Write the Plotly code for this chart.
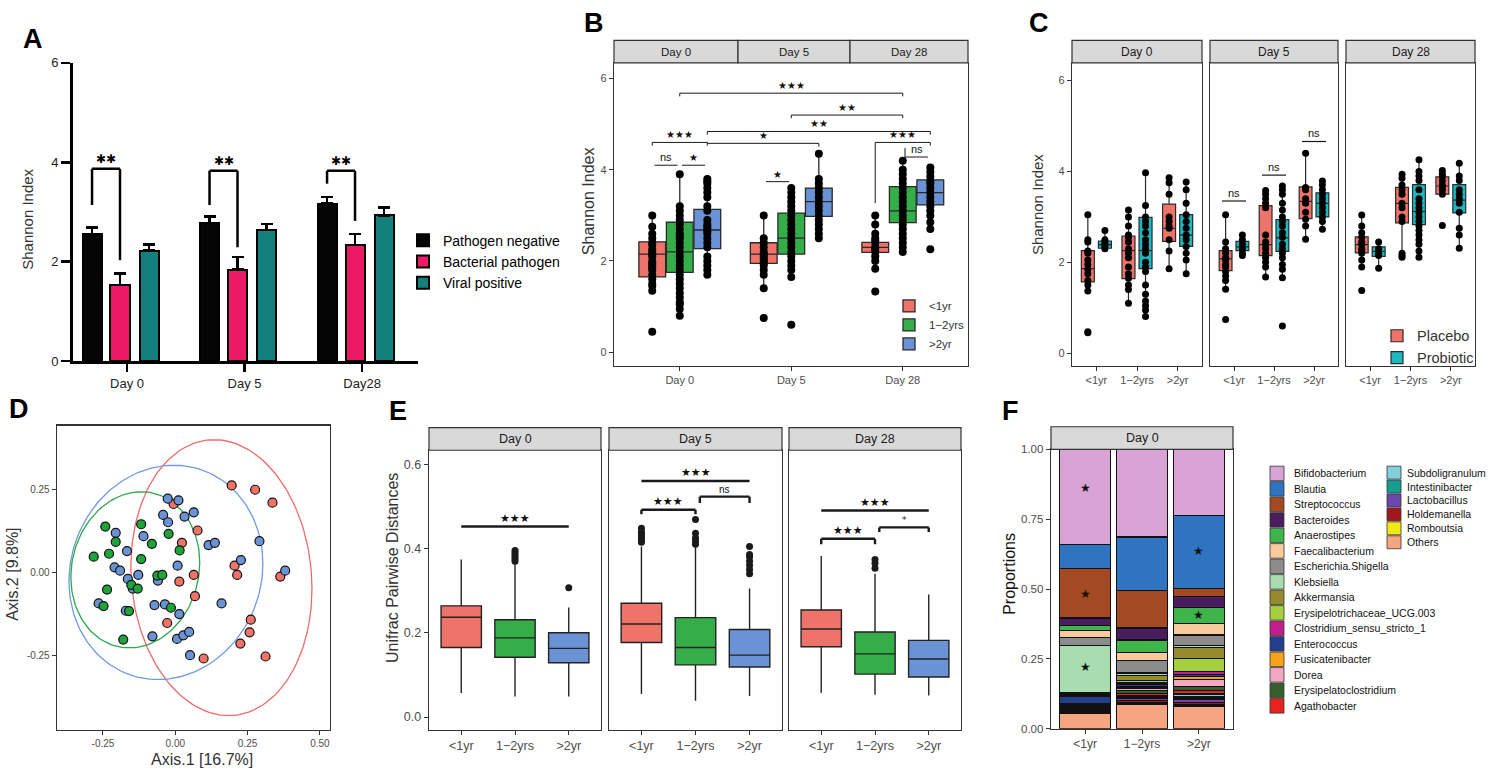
import numpy as np
import plotly.graph_objects as go

# ====================== DATA ======================
# ---- Panel A : mean Shannon index (+SEM) ----
A_days = ["Day 0", "Day 5", "Day28"]
A_series = ["Pathogen negative", "Bacterial pathogen", "Viral positive"]
A_neg_mean = [2.55, 2.78, 3.17]
A_neg_err = [0.14, 0.13, 0.13]
A_bac_mean = [1.53, 1.84, 2.34]
A_bac_err = [0.23, 0.25, 0.22]
A_vir_mean = [2.22, 2.64, 2.93]
A_vir_err = [0.13, 0.12, 0.16]
A_sig_label = ["**", "**", "**"]
A_sig_left_end = [3.14, 3.14, 3.57]
A_sig_top = [3.87, 3.83, 3.83]
A_sig_right_end = [2.03, 2.29, 2.82]

# ---- Panel B : Shannon by age group, [age][day] ----
B_days = ["Day 0", "Day 5", "Day 28"]
B_ages = ["<1yr", "1−2yrs", ">2yr"]
B_q1 = [[1.65, 1.95, 2.19], [1.75, 2.15, 2.84], [2.27, 2.98, 3.23]]
B_median = [[2.15, 2.15, 2.30], [2.20, 2.50, 3.10], [2.68, 3.30, 3.50]]
B_q3 = [[2.42, 2.40, 2.41], [2.85, 3.05, 3.63], [3.13, 3.60, 3.78]]
B_low = [[1.35, 1.40, 1.83], [0.80, 1.65, 2.20], [1.70, 2.50, 2.65]]
B_high = [[3.00, 3.00, 3.00], [3.90, 3.60, 4.20], [3.80, 4.35, 4.05]]
B_points = [
    [[3.0, 2.75, 2.6, 2.5, 2.4, 2.35, 2.25, 2.2, 2.15, 2.1, 2.0, 1.95, 1.9, 1.85, 1.8, 1.7, 1.6, 1.5, 1.45, 1.35, 0.45],
     [3.0, 2.5, 2.4, 2.3, 2.2, 2.15, 2.1, 2.05, 2.0, 1.95, 1.9, 1.8, 1.7, 1.4, 0.75],
     [3.0, 2.8, 2.6, 2.5, 2.45, 2.4, 2.3, 2.25, 2.2, 2.1, 2.0, 1.83, 1.33]],
    [[3.9, 3.2, 3.1, 3.0, 2.9, 2.8, 2.7, 2.6, 2.55, 2.5, 2.4, 2.3, 2.2, 2.1, 2.0, 1.9, 1.8, 1.7, 1.6, 1.5, 1.4, 1.3, 1.2, 1.1, 1.05, 0.95, 0.8],
     [3.6, 3.5, 3.4, 3.3, 3.2, 3.1, 3.0, 2.9, 2.8, 2.7, 2.6, 2.5, 2.4, 2.3, 2.2, 2.1, 2.0, 1.9, 1.8, 1.65, 0.6],
     [4.2, 4.0, 3.9, 3.8, 3.7, 3.6, 3.5, 3.4, 3.3, 3.2, 3.1, 3.0, 2.9, 2.8, 2.7, 2.6, 2.5, 2.4, 2.3, 2.2]],
    [[3.8, 3.75, 3.7, 3.6, 3.5, 3.4, 3.2, 3.1, 2.9, 2.8, 2.75, 2.7, 2.65, 2.6, 2.5, 2.4, 2.3, 2.1, 2.0, 1.9, 1.8, 1.7],
     [4.35, 3.8, 3.7, 3.6, 3.5, 3.4, 3.3, 3.2, 3.1, 3.0, 2.9, 2.8, 2.7, 2.6, 2.5],
     [4.05, 3.95, 3.85, 3.75, 3.7, 3.6, 3.5, 3.4, 3.3, 3.2, 3.1, 3.0, 2.85, 2.7, 2.26]],
]
# brackets: (day1, age1, day2, age2, y, label, drop_left, drop_right)
B_sig = [
    (0, 0, 0, 2, 4.60, "★★★", 0.07, 0.07),
    (0, 0, 0, 1, 4.10, "ns", 0, 0),
    (0, 1, 0, 2, 4.10, "★", 0, 0),
    (0, 2, 1, 2, 4.58, "★", 0, 0.07),
    (0, 2, 2, 2, 4.84, "★★", 0.07, 0.07),
    (1, 1, 2, 1, 5.20, "★★", 0.07, 0.07),
    (0, 1, 2, 1, 5.68, "★★★", 0.07, 0.07),
    (1, 0, 1, 1, 3.74, "★", 0, 0),
    (2, 0, 2, 2, 4.60, "★★★", 1.33, 0.07),
    (2, 1, 2, 2, 4.28, "ns", -0.2, 0),
]

# ---- Panel C : Placebo vs Probiotic, [day][age][treatment] ----
C_days = ["Day 0", "Day 5", "Day 28"]
C_ages = ["<1yr", "1−2yrs", ">2yr"]
C_treat = ["Placebo", "Probiotic"]
C_q1 = [[[1.57, 2.31], [1.64, 1.86], [2.46, 2.35]],
        [[1.82, 2.26], [2.15, 2.24], [2.96, 3.00]],
        [[2.21, 2.13], [2.87, 2.83], [3.50, 3.09]]]
C_median = [[[1.86, 2.39], [2.26, 2.26], [2.75, 2.60]],
            [[2.08, 2.34], [2.39, 2.54], [3.34, 3.30]],
            [[2.39, 2.24], [3.30, 3.12], [3.68, 3.37]]]
C_q3 = [[[2.26, 2.47], [2.58, 2.99], [3.28, 3.05]],
        [[2.26, 2.46], [3.25, 2.94], [3.66, 3.53]],
        [[2.56, 2.34], [3.65, 3.71], [3.88, 3.71]]]
C_low = [[[1.37, 2.30], [1.10, 0.81], [1.86, 1.75]],
         [[1.41, 2.15], [1.68, 1.66], [2.51, 2.73]],
         [[1.90, 1.87], [2.11, 2.11], [3.45, 2.31]]]
C_high = [[[3.05, 2.70], [3.16, 3.97], [3.86, 3.77]],
          [[3.05, 2.60], [3.58, 3.68], [4.40, 3.79]],
          [[3.04, 2.45], [3.94, 4.26], [4.02, 4.18]]]
C_points = [
    [[[3.05, 2.5, 2.45, 2.25, 2.2, 2.05, 1.95, 1.85, 1.75, 1.6, 1.5, 1.37, 0.47, 0.45],
      [2.7, 2.5, 2.45, 2.4, 2.35, 2.3]],
     [[3.15, 3.0, 2.8, 2.6, 2.55, 2.45, 2.3, 2.2, 2.1, 1.9, 1.75, 1.65, 1.5, 1.4, 1.1],
      [3.97, 3.25, 3.0, 2.9, 2.8, 2.65, 2.5, 2.4, 2.3, 2.2, 2.0, 1.9, 1.8, 1.5, 1.3, 1.15, 1.05, 0.95, 0.81]],
     [[3.86, 3.75, 3.5, 3.0, 2.9, 2.8, 2.75, 2.5, 2.25, 1.86],
      [3.77, 3.6, 3.3, 3.05, 2.9, 2.75, 2.6, 2.5, 2.35, 2.2, 2.05, 1.75]]],
    [[[3.05, 2.45, 2.3, 2.2, 2.1, 2.05, 1.95, 1.9, 1.8, 1.7, 1.6, 1.41, 0.74],
      [2.6, 2.5, 2.4, 2.3, 2.2, 2.15]],
     [[3.58, 3.5, 3.4, 3.3, 3.2, 2.6, 2.45, 2.39, 2.3, 2.2, 2.1, 2.0, 1.9, 1.68],
      [3.68, 3.6, 3.5, 3.3, 3.15, 3.0, 2.9, 2.8, 2.65, 2.55, 2.4, 2.3, 2.2, 2.1, 1.95, 1.85, 1.66, 0.6]],
     [[4.4, 3.65, 3.6, 3.4, 3.3, 3.1, 2.95, 2.8, 2.51],
      [3.79, 3.7, 3.6, 3.5, 3.4, 3.3, 3.2, 3.1, 3.0, 2.9, 2.73]]],
    [[[3.04, 2.8, 2.65, 2.55, 2.45, 2.4, 2.3, 2.25, 2.2, 2.05, 1.9, 1.38],
      [2.45, 2.3, 2.25, 2.2, 2.15, 1.87]],
     [[3.94, 3.85, 3.7, 3.6, 3.5, 3.3, 3.2, 3.0, 2.9, 2.2, 2.15, 2.11],
      [4.26, 4.0, 3.9, 3.8, 3.6, 3.4, 3.3, 3.2, 3.1, 3.0, 2.9, 2.8, 2.7, 2.6, 2.5, 2.4, 2.25, 2.11]],
     [[4.02, 3.95, 3.9, 3.8, 3.7, 3.65, 3.6, 3.5, 2.81],
      [4.18, 3.9, 3.8, 3.6, 3.5, 3.4, 3.3, 3.1, 2.75, 2.6, 2.31]]],
]
C_ns_day = [1, 1, 1]
C_ns_age = [0, 1, 2]
C_ns_y = [3.35, 3.92, 4.66]

# ---- Panel D : PCoA coordinates ----
D_red_x = [0.195, 0.276, 0.336, 0.077, 0.023, -0.006, 0.064, 0.205, 0.214, 0.363, 0.068, 0.014, -0.028, 0.261, 0.257, 0.225, 0.098, 0.312]
D_red_y = [0.262, 0.249, 0.21, 0.126, 0.089, 0.206, -0.008, 0.02, -0.008, -0.013, -0.072, -0.028, -0.153, -0.143, -0.181, -0.215, -0.26, -0.254]
D_blue_x = [-0.026, 0.011, 0.064, 0.032, -0.042, -0.025, -0.11, -0.206, 0.115, 0.137, 0.291, 0.227, 0.38, -0.167, -0.21, -0.191, -0.128, -0.164, -0.147, -0.06, 0.008, -0.265, -0.171, -0.072, -0.036, 0.014, 0.16, 0.006, 0.028, 0.048, 0.051, -0.079]
D_blue_y = [0.222, 0.217, 0.181, 0.168, 0.173, 0.151, 0.109, 0.119, 0.082, 0.089, 0.094, 0.037, 0.005, 0.064, 0.015, 0.005, -0.008, -0.02, -0.049, -0.025, 0.02, -0.094, -0.116, -0.099, -0.097, -0.126, -0.094, -0.201, -0.19, -0.18, -0.25, -0.193]
D_green_x = [-0.242, -0.118, -0.023, -0.206, -0.081, -0.282, -0.229, -0.118, 0.015, -0.062, -0.045, -0.152, -0.13, -0.236, -0.248, -0.16, -0.015, -0.18]
D_green_y = [0.138, 0.145, 0.116, 0.092, 0.086, 0.047, 0.056, 0.04, 0.066, -0.01, -0.008, -0.038, -0.049, -0.052, -0.102, -0.117, -0.107, -0.203]

# ---- Panel E : Unifrac pairwise distances, [day][age] ----
E_days = ["Day 0", "Day 5", "Day 28"]
E_ages = ["<1yr", "1−2yrs", ">2yr"]
E_q1 = [[0.165, 0.142, 0.129], [0.177, 0.124, 0.119], [0.167, 0.102, 0.095]]
E_median = [[0.237, 0.188, 0.163], [0.221, 0.165, 0.147], [0.209, 0.150, 0.138]]
E_q3 = [[0.264, 0.231, 0.200], [0.270, 0.236, 0.208], [0.254, 0.202, 0.182]]
E_low = [[0.057, 0.049, 0.049], [0.055, 0.039, 0.050], [0.058, 0.053, 0.051]]
E_high = [[0.374, 0.363, 0.260], [0.405, 0.405, 0.305], [0.382, 0.340, 0.291]]
E_outliers = [
    [[], [0.395, 0.39, 0.385, 0.38, 0.375, 0.37], [0.307]],
    [[0.448, 0.44, 0.435, 0.43, 0.425, 0.42, 0.415], [0.469, 0.436, 0.425, 0.418, 0.41], [0.405, 0.386, 0.38, 0.37, 0.36, 0.35, 0.34]],
    [[], [0.374, 0.365, 0.353], []],
]
# (day, age1, age2, y, label, drop)
E_sig = [
    (0, 1, 3, 0.452, "★★★", 0),
    (1, 1, 3, 0.560, "★★★", 0),
    (1, 1, 2, 0.492, "★★★", 0.011),
    (1, 2.08, 3, 0.523, "ns", 0.015),
    (2, 1, 3, 0.490, "★★★", 0),
    (2, 1, 2, 0.423, "★★★", 0.013),
    (2, 2.08, 3, 0.450, "*", 0.011),
]

# ---- Panel F : genus proportions, Day 0 ----
F_groups = ["<1yr", "1−2yrs", ">2yr"]
F_genera = ["Bifidobacterium", "Blautia", "Streptococcus", "Bacteroides", "Anaerostipes",
            "Faecalibacterium", "Escherichia.Shigella", "Klebsiella", "Akkermansia",
            "Erysipelotrichaceae_UCG.003", "Clostridium_sensu_stricto_1", "Enterococcus",
            "Fusicatenibacter", "Dorea", "Erysipelatoclostridium", "Agathobacter",
            "Subdoligranulum", "Intestinibacter", "Lactobacillus", "Holdemanella",
            "Romboutsia", "Others"]
F_colors = ["#D9A3D5", "#2F74C0", "#A44A22", "#4A1D5F", "#3DB54A", "#F9CB9C", "#8C8C8C",
            "#A8DDB0", "#958A2E", "#A5CF3C", "#C41E8E", "#243F8C", "#F5A31A", "#F2A7C3",
            "#35602C", "#E8231F", "#83D0DC", "#179C8F", "#6B48AE", "#A0181E", "#F2E816",
            "#F5A57F"]
F_lt1 = [0.340, 0.086, 0.178, 0.026, 0.018, 0.026, 0.029, 0.168, 0.004, 0.004, 0.004,
         0.026, 0.003, 0.003, 0.004, 0.003, 0.0042, 0.0042, 0.0042, 0.0042, 0.0042, 0.057]
F_1to2 = [0.314, 0.190, 0.135, 0.043, 0.046, 0.027, 0.045, 0.010, 0.016, 0.010, 0.005,
          0.010, 0.006, 0.005, 0.011, 0.007, 0.0062, 0.0062, 0.0062, 0.0062, 0.0062, 0.089]
F_gt2 = [0.236, 0.262, 0.028, 0.041, 0.057, 0.040, 0.039, 0.005, 0.040, 0.048, 0.010,
         0.006, 0.012, 0.024, 0.016, 0.012, 0.010, 0.007, 0.014, 0.008, 0.005, 0.080]
F_star_group = [0, 0, 0, 2, 2]
F_star_y = [0.86, 0.484, 0.22, 0.637, 0.406]

# ====================== HELPERS ======================
W, H = 1493, 777
FONT = "Arial, 'Liberation Sans', sans-serif"
SYM = "'DejaVu Sans', sans-serif"


def px(x):
    return x / W


def py(y):
    return 1 - y / H


fig = go.Figure()
shapes, annots, lay = [], [], {}


def text(x, y, s, size=12, color="#1A1A1A", angle=0, xa="center", ya="middle", family=FONT):
    annots.append(dict(x=px(x), y=py(y), xref="paper", yref="paper", text=s, showarrow=False,
                       textangle=angle, xanchor=xa, yanchor=ya,
                       font=dict(family=family, size=size, color=color)))


def seg(xr, yr, x0, y0, x1, y1, w=1.0, color="#1A1A1A"):
    shapes.append(dict(type="line", xref=xr, yref=yr, x0=x0, y0=y0, x1=x1, y1=y1,
                       line=dict(color=color, width=w)))


def bracket(xr, yr, x1, x2, y, d1, d2, w, label, size, gap=0, family=SYM):
    if d1:
        seg(xr, yr, x1, y - d1, x1, y, w)
    seg(xr, yr, x1, y, x2, y, w)
    if d2:
        seg(xr, yr, x2, y - d2, x2, y, w)
    annots.append(dict(x=(x1 + x2) / 2, y=y, xref=xr, yref=yr, text=label, showarrow=False,
                       yanchor="bottom", yshift=gap,
                       font=dict(family=family, size=size, color="#111111")))


def axis_pair(n, xdom, ydom, xrange, yrange, xkw, ykw):
    xk = "xaxis" if n == 1 else f"xaxis{n}"
    yk = "yaxis" if n == 1 else f"yaxis{n}"
    xa = dict(domain=[px(xdom[0]), px(xdom[1])], range=xrange,
              anchor="y" if n == 1 else f"y{n}", showgrid=False, zeroline=False, fixedrange=True)
    ya = dict(domain=[py(ydom[1]), py(ydom[0])], range=yrange,
              anchor="x" if n == 1 else f"x{n}", showgrid=False, zeroline=False, fixedrange=True)
    xa.update(xkw)
    ya.update(ykw)
    lay[xk] = xa
    lay[yk] = ya


def gg(tickvals=None, ticktext=None, size=11, show=True):
    d = dict(showline=True, mirror=True, linecolor="#333333", linewidth=1.3,
             ticks="outside" if show else "", ticklen=4, tickwidth=1, tickcolor="#333333",
             showticklabels=show, tickfont=dict(family=FONT, size=size, color="#4D4D4D"))
    if tickvals is not None:
        d["tickvals"] = tickvals
    if ticktext is not None:
        d["ticktext"] = ticktext
    return d


def header(x0, x1, y0, y1, label, size=12):
    shapes.append(dict(type="rect", xref="paper", yref="paper", x0=px(x0), x1=px(x1),
                       y0=py(y1), y1=py(y0), fillcolor="#D9D9D9",
                       line=dict(color="#333333", width=1.2)))
    text((x0 + x1) / 2, (y0 + y1) / 2, label, size=size)


def cov_trob(X, nu=5, maxit=25, tol=0.01):
    # robust multivariate-t location/scatter (as MASS::cov.trob)
    n, p = X.shape
    wt = np.ones(n)
    loc = X.mean(axis=0)
    w = np.sqrt(wt)
    for _ in range(maxit):
        w0 = w
        Xc = X - loc
        _, s, vt = np.linalg.svd(np.sqrt(w / w.sum())[:, None] * Xc, full_matrices=False)
        wX = Xc @ vt.T @ np.diag(1 / s)
        Q = (wX ** 2).sum(axis=1)
        w = (wt * (nu + p)) / (nu + Q)
        loc = (w[:, None] * X).sum(axis=0) / w.sum()
        if np.all(np.abs(w - w0) < tol):
            break
    Xc = X - loc
    cov = (np.sqrt(w)[:, None] * Xc).T @ (np.sqrt(w)[:, None] * Xc) / wt.sum()
    return loc, cov


def ellipse(xs, ys, level=0.95, n=160):
    # ggplot2 stat_ellipse(type = "t")
    X = np.column_stack([xs, ys])
    mu, cov = cov_trob(X)
    d2 = len(xs) - 1
    fq = d2 / 2.0 * ((1 - level) ** (-2.0 / d2) - 1)
    r = np.sqrt(2 * fq)
    chol = np.linalg.cholesky(cov).T
    t = np.linspace(0, 2 * np.pi, n)
    unit = np.column_stack([np.cos(t), np.sin(t)])
    pts = mu + r * (unit @ chol)
    return pts[:, 0], pts[:, 1]


AGE_COLS = ["#F0736A", "#35AE4A", "#6A93D6"]
TREAT_COLS = ["#F0736A", "#1CB8BF"]

# ====================== PANEL A ======================
A_off = [-0.238, 0.0, 0.247]
A_cols = ["#050505", "#EC1A66", "#13807D"]
A_means = [A_neg_mean, A_bac_mean, A_vir_mean]
A_errs = [A_neg_err, A_bac_err, A_vir_err]
for k in range(3):
    fig.add_trace(go.Bar(
        x=[i + A_off[k] for i in range(len(A_days))], y=A_means[k], width=0.162,
        name=A_series[k], marker=dict(color=A_cols[k], line=dict(color="black", width=2)),
        error_y=dict(type="data", symmetric=False, array=A_errs[k], arrayminus=[0] * 3,
                     color="black", thickness=2.5, width=6),
        xaxis="x", yaxis="y", legend="legend"))
axis_pair(1, (73, 418), (57, 361), [-0.4, 2.536], [0, 6],
          dict(showline=True, linewidth=3, linecolor="black", ticks="outside", ticklen=8,
               tickwidth=2.5, tickcolor="black", tickvals=[i + 0.06 for i in range(3)],
               ticktext=A_days, tickfont=dict(family=FONT, size=13, color="#222222")),
          dict(showline=True, linewidth=3, linecolor="black", ticks="outside", ticklen=9,
               tickwidth=2.5, tickcolor="black", tickvals=[0, 2, 4, 6],
               tickfont=dict(family=FONT, size=13, color="#222222")))
for i in range(3):
    xl, xr_ = i + A_off[0], i + A_off[1]
    seg("x", "y", xl, A_sig_left_end[i], xl, A_sig_top[i], 2.5, "black")
    seg("x", "y", xl, A_sig_top[i], xr_, A_sig_top[i], 2.5, "black")
    seg("x", "y", xr_, A_sig_top[i], xr_, A_sig_right_end[i], 2.5, "black")
    annots.append(dict(x=(xl + xr_) / 2, y=A_sig_top[i], xref="x", yref="y",
                       text="✱" * len(A_sig_label[i]), showarrow=False, yanchor="bottom",
                       yshift=1, font=dict(family=SYM, size=12, color="black")))
text(28, 217, "Shannon Index", size=15, color="#333333", angle=-90)
text(33, 33, "<b>A</b>", size=27, color="black")
lay["legend"] = dict(x=px(403), y=py(222), xanchor="left", yanchor="top",
                     bgcolor="rgba(0,0,0,0)", font=dict(family=FONT, size=14, color="black"),
                     tracegroupgap=0, itemwidth=30, traceorder="normal")

# ====================== PANEL B ======================
B_off = [-0.247, 0.0, 0.247]
for a in range(3):
    for d in range(3):
        xpos = d + B_off[a]
        fig.add_trace(go.Box(
            x=[xpos], q1=[B_q1[a][d]], median=[B_median[a][d]], q3=[B_q3[a][d]],
            lowerfence=[B_low[a][d]], upperfence=[B_high[a][d]], width=0.24,
            orientation="v", fillcolor=AGE_COLS[a], line=dict(color="#2A2A2A", width=1.3),
            whiskerwidth=0, boxpoints=False, name=B_ages[a], legendgroup="B" + B_ages[a],
            showlegend=(d == 0), legend="legend2", xaxis="x2", yaxis="y2"))
        pts = B_points[a][d]
        fig.add_trace(go.Scatter(x=[xpos] * len(pts), y=pts, mode="markers",
                                 marker=dict(size=8, color="black"), showlegend=False,
                                 xaxis="x2", yaxis="y2", hoverinfo="skip"))
axis_pair(2, (614, 968), (57, 366), [-0.59, 2.585], [-0.301, 6.344],
          gg([0, 1, 2], B_days, 11), gg([0, 2, 4, 6], None, 11))
for (d1, a1, d2, a2, y, lab, dl, dr) in B_sig:
    x1 = d1 + B_off[a1]
    x2 = d2 + B_off[a2]
    if d1 == d2 and abs(a1 - a2) == 1:
        x1 += 0.02
        x2 -= 0.02
    bracket("x2", "y2", x1, x2, y, dl, dr, 1.0, lab, 10 if lab != "ns" else 11, 0,
            SYM if lab != "ns" else FONT)
header(614, 738, 34, 57, "Day 0", 11.5)
header(738, 850, 34, 57, "Day 5", 11.5)
header(850, 968, 34, 57, "Day 28", 11.5)
text(588, 198, "Shannon Index", size=16, color="#333333", angle=-90)
text(594, 16, "<b>B</b>", size=27, color="black")
lay["legend2"] = dict(x=px(889), y=py(290), xanchor="left", yanchor="top",
                      bgcolor="rgba(0,0,0,0)", font=dict(family=FONT, size=11.5, color="#333333"),
                      tracegroupgap=0, itemwidth=30, traceorder="normal")

# ====================== PANEL C ======================
C_off = [-0.21, 0.21]
C_dom = [(1072, 1202), (1210, 1338), (1346, 1475)]
for d in range(3):
    n = 3 + d
    for a in range(3):
        for t in range(2):
            xpos = (a + 1) + C_off[t]
            fig.add_trace(go.Box(
                x=[xpos], q1=[C_q1[d][a][t]], median=[C_median[d][a][t]], q3=[C_q3[d][a][t]],
                lowerfence=[C_low[d][a][t]], upperfence=[C_high[d][a][t]], width=0.32,
                orientation="v", fillcolor=TREAT_COLS[t], line=dict(color="#2A2A2A", width=1.2),
                whiskerwidth=0, boxpoints=False, name=C_treat[t], legendgroup="C" + C_treat[t],
                showlegend=(d == 0 and a == 0), legend="legend3",
                xaxis=f"x{n}", yaxis=f"y{n}"))
            pts = C_points[d][a][t]
            fig.add_trace(go.Scatter(x=[xpos] * len(pts), y=pts, mode="markers",
                                     marker=dict(size=7, color="black"), showlegend=False,
                                     xaxis=f"x{n}", yaxis=f"y{n}", hoverinfo="skip"))
    axis_pair(n, C_dom[d], (57, 366), [0.4, 3.6], [-0.28, 6.39],
              gg([1, 2, 3], C_ages, 11),
              gg([0, 2, 4, 6], None, 11, show=(d == 0)))
    header(C_dom[d][0], C_dom[d][1], 34, 57, C_days[d], 12)
for i in range(len(C_ns_y)):
    n = 3 + C_ns_day[i]
    c = C_ns_age[i] + 1
    bracket(f"x{n}", f"y{n}", c - 0.3, c + 0.3, C_ns_y[i], 0, 0, 1.2, "ns", 11, 0, FONT)
text(1037, 202, "Shannon Index", size=15, color="#333333", angle=-90)
text(1039, 16, "<b>C</b>", size=27, color="black")
lay["legend3"] = dict(x=px(1377), y=py(319), xanchor="left", yanchor="top",
                      bgcolor="rgba(0,0,0,0)", font=dict(family=FONT, size=14.5, color="#333333"),
                      tracegroupgap=0, itemwidth=30, traceorder="normal")

# ====================== PANEL D ======================
D_sets = [(D_red_x, D_red_y, "#F0736A", "#EE6B6B"),
          (D_blue_x, D_blue_y, "#6A93D6", "#6F9BE0"),
          (D_green_x, D_green_y, "#1FA33A", "#2BA84A")]
for xs, ys, fc, lc in D_sets:
    ex, ey = ellipse(xs, ys)
    fig.add_trace(go.Scatter(x=ex, y=ey, mode="lines", line=dict(color=lc, width=1.3),
                             showlegend=False, xaxis="x6", yaxis="y6", hoverinfo="skip"))
for xs, ys, fc, lc in D_sets:
    fig.add_trace(go.Scatter(x=xs, y=ys, mode="markers",
                             marker=dict(size=9, color=fc, line=dict(color="#111111", width=1.2)),
                             showlegend=False, xaxis="x6", yaxis="y6", hoverinfo="skip"))
axis_pair(6, (57, 330), (427, 737), [-0.409, 0.535], [-0.475, 0.442],
          gg([-0.25, 0, 0.25, 0.5], ["-0.25", "0.00", "0.25", "0.50"], 10),
          gg([-0.25, 0, 0.25], ["-0.25", "0.00", "0.25"], 10))
text(202, 767, "Axis.1 [16.7%]", size=16, color="#333333")
text(13, 579, "Axis.2 [9.8%]", size=16, color="#333333", angle=-90)
text(19, 410, "<b>D</b>", size=27, color="black")

# ====================== PANEL E ======================
E_dom = [(429, 601), (609, 782), (789, 961)]
for d in range(3):
    n = 7 + d
    for a in range(3):
        fig.add_trace(go.Box(
            x=[a + 1], q1=[E_q1[d][a]], median=[E_median[d][a]], q3=[E_q3[d][a]],
            lowerfence=[E_low[d][a]], upperfence=[E_high[d][a]], width=0.75,
            orientation="v", fillcolor=AGE_COLS[a], line=dict(color="#222222", width=1.4),
            whiskerwidth=0, boxpoints=False, showlegend=False,
            xaxis=f"x{n}", yaxis=f"y{n}"))
        outs = E_outliers[d][a]
        if outs:
            fig.add_trace(go.Scatter(x=[a + 1] * len(outs), y=outs, mode="markers",
                                     marker=dict(size=7, color="#1A1A1A"), showlegend=False,
                                     xaxis=f"x{n}", yaxis=f"y{n}", hoverinfo="skip"))
    axis_pair(n, E_dom[d], (452, 737), [0.4, 3.6], [-0.03, 0.633],
              gg([1, 2, 3], E_ages, 12.5),
              gg([0, 0.2, 0.4, 0.6], ["0.0", "0.2", "0.4", "0.6"], 12.5, show=(d == 0)))
    header(E_dom[d][0], E_dom[d][1], 429, 452, E_days[d], 12.5)
for (d, a1, a2, y, lab, drop) in E_sig:
    n = 7 + d
    size = 11 if lab.startswith("★") else (10 if lab == "ns" else 9)
    bracket(f"x{n}", f"y{n}", a1, a2, y, drop, drop, 2.4, lab, size, 0,
            SYM if lab != "ns" else FONT)
text(393, 572, "Unifrac Pairwise Distances", size=16, color="#333333", angle=-90)
text(398, 412, "<b>E</b>", size=27, color="black")

# ====================== PANEL F ======================
F_vals = [F_lt1, F_1to2, F_gt2]
for g in reversed(range(len(F_genera))):
    fig.add_trace(go.Bar(
        x=[1, 2, 3], y=[F_vals[k][g] for k in range(3)], width=0.9, name=F_genera[g],
        marker=dict(color=F_colors[g], line=dict(color="#111111", width=1.3)),
        showlegend=False, xaxis="x10", yaxis="y10", hoverinfo="skip"))
axis_pair(10, (1051, 1233), (451, 736), [0.4, 3.6], [0, 1],
          gg([1, 2, 3], F_groups, 12),
          gg([0, 0.25, 0.5, 0.75, 1.0], ["0.00", "0.25", "0.50", "0.75", "1.00"], 11.5))
for i in range(len(F_star_y)):
    annots.append(dict(x=F_star_group[i] + 1, y=F_star_y[i], xref="x10", yref="y10",
                       text="★", showarrow=False,
                       font=dict(family=SYM, size=12, color="#111111")))
header(1051, 1233, 428, 451, "Day 0", 12.5)
text(1010, 578, "Proportions", size=16, color="#111111", angle=-90)
text(1010, 412, "<b>F</b>", size=27, color="black")
# legend for F (two columns)
for i, gname in enumerate(F_genera):
    if i < 16:
        x0, top, h, tx = 1270, 467.7 + i * 15.8, 15.8, 1292
    else:
        x0, top, h, tx = 1387, 467.7 + (i - 16) * 14.2, 14.2, 1405
    shapes.append(dict(type="rect", xref="paper", yref="paper", x0=px(x0), x1=px(x0 + 14),
                       y0=py(top + h - 0.5), y1=py(top + 0.5), fillcolor=F_colors[i],
                       line=dict(color="#333333", width=0.8)))
    text(tx, top + h / 2, gname, size=10.5, color="#111111", xa="left")

# ====================== LAYOUT ======================
fig.update_layout(
    width=W, height=H, autosize=False,
    margin=dict(l=0, r=0, t=0, b=0, pad=0),
    paper_bgcolor="white", plot_bgcolor="white",
    barmode="stack", boxmode="overlay", hovermode=False,
    font=dict(family=FONT, size=12, color="#1A1A1A"),
    shapes=shapes, annotations=annots, **lay)

fig.write_html("out.html", config={"displayModeBar": False, "staticPlot": True},
               post_script="document.body.style.margin='0px';document.body.style.overflow='hidden';")
